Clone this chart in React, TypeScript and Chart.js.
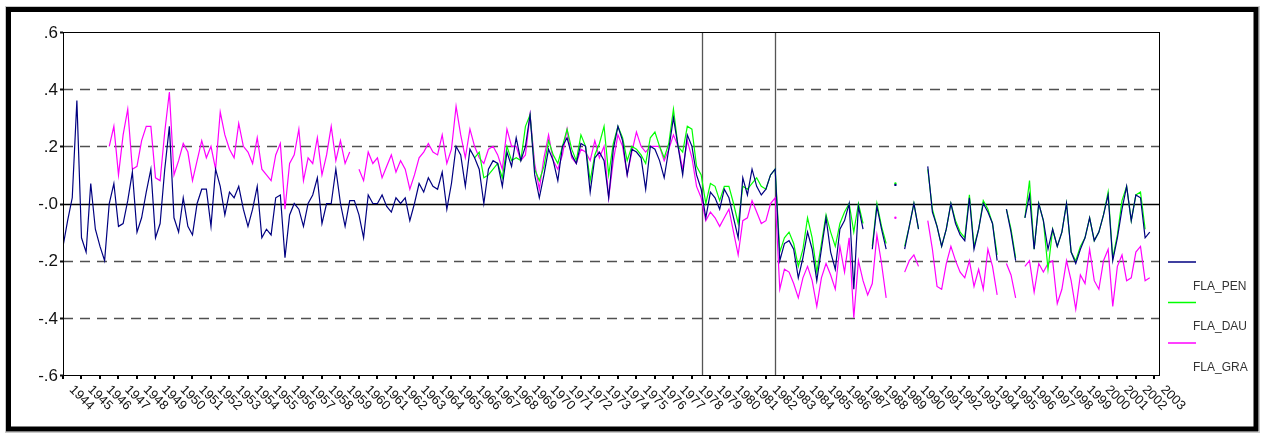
import React, { useEffect, useRef } from "react";
import { Chart, registerables } from "chart.js";

Chart.register(...registerables);

// ---------- data (quarterly, starting 1944Q1) ----------
const START_YEAR = 1944;
const PERIODS_PER_YEAR = 4;
const X_MIN = 1944;
const X_MAX = 2003.25;

const YEAR_LABELS = [
  "1944", "1945", "1946", "1947", "1948", "1949", "1950", "1951", "1952", "1953",
  "1954", "1955", "1956", "1957", "1958", "1959", "1960", "1961", "1962", "1963",
  "1964", "1965", "1966", "1967", "1968", "1969", "1970", "1971", "1972", "1973",
  "1974", "1975", "1976", "1977", "1978", "1979", "1980", "1981", "1982", "1983",
  "1984", "1985", "1986", "1987", "1988", "1989", "1990", "1991", "1992", "1993",
  "1994", "1995", "1996", "1997", "1998", "1999", "2000", "2001", "2002", "2003",
];

const Y_TICKS = [0.6, 0.4, 0.2, 0, -0.2, -0.4, -0.6];
const Y_TICK_LABELS = [".6", ".4", ".2", "-.0", "-.2", "-.4", "-.6"];
const DASHED_LEVELS = [0.4, 0.2, -0.2, -0.4];
const BREAK_DATES = [1978.54, 1982.5];

const SERIES_NAMES = ["FLA_PEN", "FLA_DAU", "FLA_GRA"];
const SERIES_COLORS = ["#000080", "#00ff00", "#ff00ff"];

const FLA_PEN = [
  -0.15, -0.06, 0.02, 0.36, // 1944
  -0.12, -0.17, 0.07, -0.09, // 1945
  -0.15, -0.2, 0.0, 0.07, // 1946
  -0.08, -0.07, 0.01, 0.11, // 1947
  -0.1, -0.05, 0.04, 0.12, // 1948
  -0.12, -0.07, 0.12, 0.27, // 1949
  -0.05, -0.1, 0.02, -0.08, // 1950
  -0.11, 0.0, 0.05, 0.05, // 1951
  -0.08, 0.12, 0.06, -0.04, // 1952
  0.04, 0.02, 0.06, -0.02, // 1953
  -0.08, -0.02, 0.06, -0.12, // 1954
  -0.09, -0.11, 0.02, 0.03, // 1955
  -0.19, -0.04, 0.0, -0.02, // 1956
  -0.08, 0.0, 0.03, 0.09, // 1957
  -0.07, 0.0, 0.0, 0.12, // 1958
  0.0, -0.08, 0.01, 0.01, // 1959
  -0.04, -0.12, 0.03, 0.0, // 1960
  0.0, 0.03, -0.01, -0.03, // 1961
  0.02, 0.0, 0.02, -0.06, // 1962
  0.0, 0.07, 0.04, 0.09, // 1963
  0.06, 0.05, 0.11, -0.02, // 1964
  0.07, 0.2, 0.17, 0.06, // 1965
  0.19, 0.16, 0.12, 0.0, // 1966
  0.12, 0.15, 0.14, 0.06, // 1967
  0.18, 0.13, 0.23, 0.15, // 1968
  0.2, 0.31, 0.1, 0.02, // 1969
  0.1, 0.19, 0.15, 0.08, // 1970
  0.2, 0.23, 0.17, 0.14, // 1971
  0.21, 0.2, 0.04, 0.16, // 1972
  0.18, 0.15, 0.02, 0.19, // 1973
  0.27, 0.22, 0.1, 0.19, // 1974
  0.18, 0.16, 0.05, 0.2, // 1975
  0.19, 0.15, 0.09, 0.19, // 1976
  0.3, 0.2, 0.1, 0.24, // 1977
  0.2, 0.1, 0.05, -0.05, // 1978
  0.04, 0.02, -0.02, 0.05, // 1979
  0.02, -0.05, -0.12, 0.09, // 1980
  0.03, 0.12, 0.06, 0.03, // 1981
  0.05, 0.1, 0.12, -0.2, // 1982
  -0.14, -0.13, -0.16, -0.26, // 1983
  -0.19, -0.1, -0.16, -0.27, // 1984
  -0.16, -0.05, -0.17, -0.23, // 1985
  -0.09, -0.06, 0.0, -0.3, // 1986
  -0.01, -0.09, null, -0.16, // 1987
  -0.01, -0.09, -0.16, null, // 1988
  0.065, null, -0.16, -0.08, // 1989
  0.0, -0.09, null, 0.13, // 1990
  -0.03, -0.08, -0.15, -0.09, // 1991
  0.0, -0.07, -0.11, -0.13, // 1992
  0.02, -0.16, -0.09, 0.0, // 1993
  -0.03, -0.07, -0.2, null, // 1994
  -0.02, -0.1, -0.2, null, // 1995
  -0.05, 0.03, -0.16, 0.0, // 1996
  -0.06, -0.16, -0.09, -0.15, // 1997
  -0.1, 0.0, -0.17, -0.21, // 1998
  -0.16, -0.12, -0.05, -0.13, // 1999
  -0.1, -0.04, 0.03, -0.2, // 2000
  -0.12, -0.02, 0.06, -0.06, // 2001
  0.03, 0.02, -0.12, -0.1, // 2002
];

const FLA_DAU = [
  null, null, null, null, // 1944
  null, null, null, null, // 1945
  null, null, null, null, // 1946
  null, null, null, null, // 1947
  null, null, null, null, // 1948
  null, null, null, null, // 1949
  null, null, null, null, // 1950
  null, null, null, null, // 1951
  null, null, null, null, // 1952
  null, null, null, null, // 1953
  null, null, null, null, // 1954
  null, null, null, null, // 1955
  null, null, null, null, // 1956
  null, null, null, null, // 1957
  null, null, null, null, // 1958
  null, null, null, null, // 1959
  null, null, null, null, // 1960
  null, null, null, null, // 1961
  null, null, null, null, // 1962
  null, null, null, null, // 1963
  null, null, null, null, // 1964
  null, null, null, null, // 1965
  null, 0.16, 0.18, 0.09, // 1966
  0.1, 0.12, 0.14, 0.09, // 1967
  0.2, 0.15, 0.16, 0.15, // 1968
  0.27, 0.31, 0.12, 0.08, // 1969
  0.13, 0.22, 0.17, 0.14, // 1970
  0.2, 0.26, 0.19, 0.15, // 1971
  0.24, 0.2, 0.08, 0.17, // 1972
  0.21, 0.27, 0.1, 0.21, // 1973
  0.27, 0.23, 0.15, 0.2, // 1974
  0.19, 0.17, 0.14, 0.23, // 1975
  0.25, 0.2, 0.16, 0.21, // 1976
  0.33, 0.2, 0.18, 0.27, // 1977
  0.26, 0.13, 0.1, 0.0, // 1978
  0.07, 0.06, 0.01, 0.06, // 1979
  0.06, 0.0, -0.07, 0.06, // 1980
  0.05, 0.07, 0.09, 0.06, // 1981
  0.05, 0.1, 0.12, -0.17, // 1982
  -0.12, -0.1, -0.14, -0.22, // 1983
  -0.16, -0.05, -0.12, -0.24, // 1984
  -0.14, -0.04, -0.1, -0.15, // 1985
  -0.07, -0.03, 0.0, -0.1, // 1986
  0.0, -0.07, null, -0.15, // 1987
  0.0, -0.08, -0.14, null, // 1988
  0.07, null, -0.15, -0.08, // 1989
  0.0, -0.09, null, 0.12, // 1990
  -0.02, -0.08, -0.15, -0.09, // 1991
  0.0, -0.06, -0.1, -0.12, // 1992
  0.03, -0.15, -0.09, 0.01, // 1993
  -0.02, -0.07, -0.18, null, // 1994
  -0.02, -0.09, -0.19, null, // 1995
  -0.05, 0.08, -0.16, 0.0, // 1996
  -0.06, -0.23, -0.09, -0.15, // 1997
  -0.1, 0.0, -0.17, -0.2, // 1998
  -0.15, -0.12, -0.05, -0.13, // 1999
  -0.1, -0.04, 0.04, -0.19, // 2000
  -0.11, 0.01, 0.06, -0.06, // 2001
  0.03, 0.04, -0.09, null, // 2002
];

const FLA_GRA = [
  null, null, null, null, // 1944
  null, null, null, null, // 1945
  null, null, 0.2, 0.27, // 1946
  0.1, 0.24, 0.33, 0.12, // 1947
  0.13, 0.22, 0.27, 0.27, // 1948
  0.09, 0.08, 0.25, 0.39, // 1949
  0.1, 0.15, 0.21, 0.18, // 1950
  0.08, 0.15, 0.22, 0.16, // 1951
  0.2, 0.12, 0.32, 0.24, // 1952
  0.19, 0.16, 0.28, 0.2, // 1953
  0.18, 0.14, 0.23, 0.12, // 1954
  0.1, 0.08, 0.17, 0.21, // 1955
  -0.02, 0.14, 0.17, 0.26, // 1956
  0.08, 0.16, 0.14, 0.23, // 1957
  0.1, 0.17, 0.27, 0.15, // 1958
  0.22, 0.14, 0.18, null, // 1959
  0.12, 0.08, 0.18, 0.14, // 1960
  0.16, 0.09, 0.13, 0.17, // 1961
  0.11, 0.15, 0.12, 0.05, // 1962
  0.1, 0.16, 0.18, 0.21, // 1963
  0.18, 0.17, 0.24, 0.14, // 1964
  0.19, 0.34, 0.24, 0.16, // 1965
  0.26, 0.2, 0.16, 0.14, // 1966
  0.19, 0.2, 0.17, 0.12, // 1967
  0.26, 0.2, 0.2, 0.15, // 1968
  0.17, 0.31, 0.14, 0.05, // 1969
  0.16, 0.24, 0.15, 0.12, // 1970
  0.17, 0.26, 0.16, 0.14, // 1971
  0.19, 0.18, 0.15, 0.22, // 1972
  0.16, 0.2, 0.02, 0.15, // 1973
  0.24, 0.2, 0.1, 0.18, // 1974
  0.25, 0.2, 0.18, 0.2, // 1975
  0.2, 0.2, 0.15, 0.19, // 1976
  0.24, 0.2, 0.12, 0.22, // 1977
  0.16, 0.06, 0.02, -0.06, // 1978
  -0.03, -0.05, -0.08, -0.05, // 1979
  -0.02, -0.1, -0.18, -0.06, // 1980
  -0.05, 0.01, -0.03, -0.07, // 1981
  -0.06, 0.0, 0.02, -0.3, // 1982
  -0.23, -0.24, -0.28, -0.33, // 1983
  -0.26, -0.22, -0.27, -0.36, // 1984
  -0.26, -0.21, -0.25, -0.3, // 1985
  -0.15, -0.24, -0.12, -0.4, // 1986
  -0.2, -0.27, -0.32, -0.28, // 1987
  -0.11, -0.21, -0.33, null, // 1988
  -0.05, null, -0.24, -0.2, // 1989
  -0.18, -0.22, null, -0.06, // 1990
  -0.16, -0.29, -0.3, -0.21, // 1991
  -0.15, -0.2, -0.24, -0.26, // 1992
  -0.2, -0.29, -0.23, -0.3, // 1993
  -0.16, -0.22, -0.32, null, // 1994
  -0.21, -0.25, -0.33, null, // 1995
  -0.22, -0.2, -0.31, -0.21, // 1996
  -0.24, -0.21, -0.2, -0.35, // 1997
  -0.3, -0.2, -0.27, -0.37, // 1998
  -0.25, -0.28, -0.16, -0.27, // 1999
  -0.3, -0.2, -0.16, -0.36, // 2000
  -0.22, -0.18, -0.27, -0.26, // 2001
  -0.17, -0.15, -0.27, -0.26, // 2002
];

const SERIES_VALUES = [FLA_PEN, FLA_DAU, FLA_GRA];

// ---------- drawing helpers ----------
const FONT = "'Liberation Sans', Arial, sans-serif";

function hLine(ctx: CanvasRenderingContext2D, x1: number, x2: number, y: number) {
  ctx.beginPath();
  ctx.moveTo(x1, y);
  ctx.lineTo(x2, y);
  ctx.stroke();
}
function vLine(ctx: CanvasRenderingContext2D, x: number, y1: number, y2: number) {
  ctx.beginPath();
  ctx.moveTo(x, y1);
  ctx.lineTo(x, y2);
  ctx.stroke();
}

const eviewsPlugin = {
  id: "eviewsDecor",
  beforeDatasetsDraw(chart: any) {
    const { ctx, chartArea: a, scales } = chart;
    const x = scales.x;
    const y = scales.y;
    ctx.save();
    // dashed horizontal grid
    ctx.strokeStyle = "#505050";
    ctx.lineWidth = 1.4;
    ctx.setLineDash([10, 7]);
    for (const v of DASHED_LEVELS) {
      hLine(ctx, a.left, a.right, Math.round(y.getPixelForValue(v)) + 0.5);
    }
    ctx.setLineDash([]);
    // break lines
    ctx.strokeStyle = "#555555";
    ctx.lineWidth = 1.3;
    for (const d of BREAK_DATES) {
      vLine(ctx, Math.round(x.getPixelForValue(d)) + 0.5, a.top, a.bottom);
    }
    // zero line
    ctx.strokeStyle = "#000000";
    ctx.lineWidth = 1.3;
    hLine(ctx, a.left, a.right, Math.round(y.getPixelForValue(0)) + 0.5);
    ctx.restore();
  },
  afterDraw(chart: any) {
    const { ctx, chartArea: a, scales } = chart;
    const x = scales.x;
    const y = scales.y;
    ctx.save();
    // plot box
    ctx.strokeStyle = "#000000";
    ctx.lineWidth = 1;
    ctx.strokeRect(Math.round(a.left) + 0.5, Math.round(a.top) + 0.5, Math.round(a.right - a.left), Math.round(a.bottom - a.top));

    // y ticks + labels
    ctx.fillStyle = "#111111";
    ctx.font = `17px ${FONT}`;
    ctx.textAlign = "right";
    ctx.textBaseline = "middle";
    Y_TICKS.forEach((v, i) => {
      const py = y.getPixelForValue(v);
      ctx.fillRect(a.left - 3, Math.round(py) - 0.5, 3, 2);
      ctx.fillText(Y_TICK_LABELS[i], a.left - 5, py + 1);
    });

    // x ticks + rotated labels
    ctx.font = `13px ${FONT}`;
    ctx.textAlign = "left";
    ctx.textBaseline = "top";
    YEAR_LABELS.forEach((lab) => {
      const px = x.getPixelForValue(Number(lab));
      ctx.fillStyle = "#000000";
      ctx.fillRect(Math.round(px) - 1, a.bottom + 1, 2, 3);
      ctx.save();
      ctx.translate(px + 13, a.bottom + 8);
      ctx.rotate(Math.PI / 4);
      ctx.fillStyle = "#111111";
      ctx.fillText(lab, 0, 0);
      ctx.restore();
    });

    // legend
    ctx.font = `12px ${FONT}`;
    ctx.textAlign = "left";
    ctx.textBaseline = "middle";
    SERIES_NAMES.forEach((name, i) => {
      const ly = 262 + 40.5 * i;
      ctx.strokeStyle = SERIES_COLORS[i];
      ctx.lineWidth = 1.5;
      hLine(ctx, 1168, 1196, ly);
      ctx.fillStyle = "#333333";
      ctx.fillText(name, 1193, ly + 24.5);
    });

    // outer frame
    ctx.strokeStyle = "#c8c8c8";
    ctx.lineWidth = 1;
    ctx.strokeRect(5.5, 6.5, 1254, 426);
    ctx.strokeStyle = "#000000";
    ctx.lineWidth = 5;
    ctx.strokeRect(8.5, 9.5, 1247.5, 419.5);
    ctx.restore();
  },
};

export default function App() {
  const canvasRef = useRef<HTMLCanvasElement | null>(null);

  useEffect(() => {
    if (!canvasRef.current) return;
    const datasets = SERIES_VALUES.map((vals, si) => ({
      label: SERIES_NAMES[si],
      data: vals.map((v, i) => ({ x: START_YEAR + i / PERIODS_PER_YEAR, y: v })),
      borderColor: SERIES_COLORS[si],
      backgroundColor: SERIES_COLORS[si],
      borderWidth: 1.2,
      tension: 0,
      fill: false,
      spanGaps: false,
      pointBorderWidth: 0,
      pointHoverRadius: 0,
      pointRadius: (c: any) => {
        const d = c.dataset.data;
        const i = c.dataIndex;
        if (d[i] == null || d[i].y == null) return 0;
        const prev = i > 0 ? d[i - 1].y : null;
        const next = i < d.length - 1 ? d[i + 1].y : null;
        return prev == null && next == null ? 1.2 : 0;
      },
    }));

    const chart = new Chart(canvasRef.current, {
      type: "line",
      data: { datasets } as any,
      options: {
        animation: false,
        responsive: false,
        maintainAspectRatio: false,
        layout: { padding: { left: 63, top: 32, right: 103, bottom: 58 } },
        scales: {
          x: { type: "linear", min: X_MIN, max: X_MAX, display: false },
          y: { type: "linear", min: -0.6, max: 0.6, display: false },
        },
        plugins: {
          legend: { display: false },
          tooltip: { enabled: false },
        },
        events: [],
      } as any,
      plugins: [eviewsPlugin],
    });
    return () => chart.destroy();
  }, []);

  return (
    <div style={{ position: "fixed", left: 0, top: 0, width: 1262, height: 433, background: "#ffffff" }}>
      <canvas ref={canvasRef} width={1262} height={433} style={{ width: 1262, height: 433, display: "block" }} />
    </div>
  );
}
